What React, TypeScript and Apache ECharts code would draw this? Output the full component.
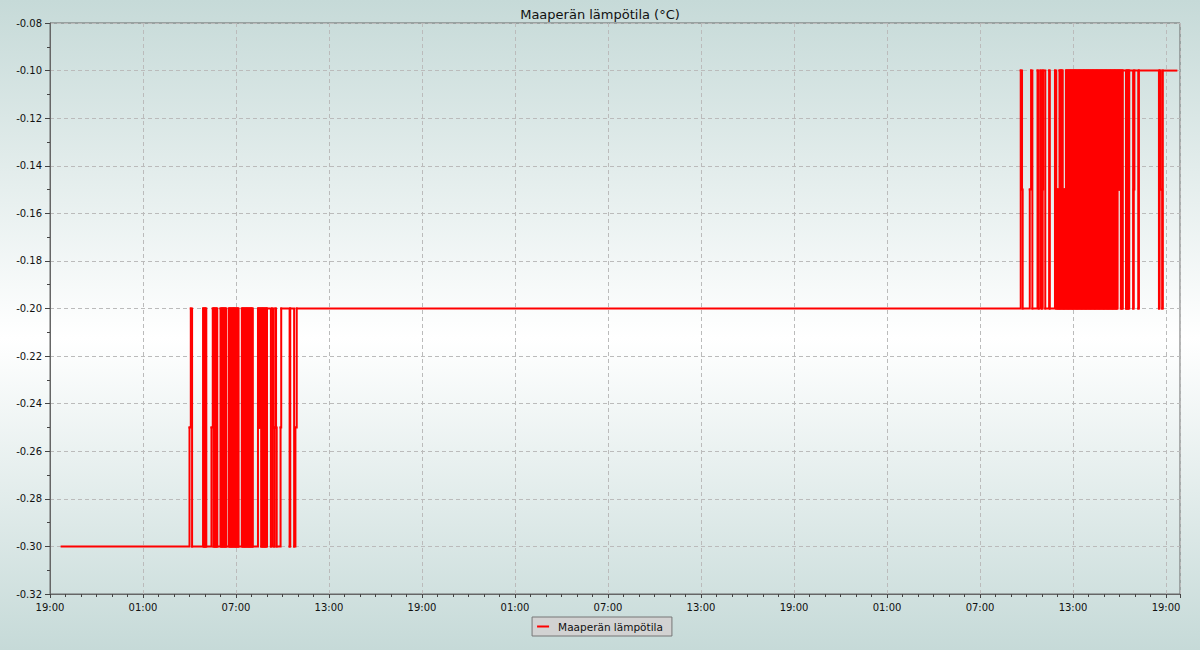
import React, { useEffect, useRef } from "react";
import * as echarts from "echarts";

const TITLE = "Maaperän lämpötila (°C)";
const SERIES_NAME = "Maaperän lämpötila";

// x axis: hours after the first day's 19:00; tick labels every 6 h
const AXIS_ORIGIN_CLOCK = 19;
const X_MAX_HOURS = 72.9;
const xTickHours = [0, 6, 12, 18, 24, 30, 36, 42, 48, 54, 60, 66, 72];

// y axis
const Y_MIN = -0.32;
const Y_MAX = -0.08;
const Y_STEP = 0.02;

// temperature levels (°C) that appear in the sample code strings
const levelCodes: Record<string, number> = {
  a: -0.3,
  b: -0.25,
  c: -0.2,
  d: -0.15,
  e: -0.1,
};

const SAMPLE_MINUTES = 2.5;

// first reading ("day hh:mm"), held until the first burst
const firstReadingTime = "0 19:45";
const firstReadingValue = -0.3;

// morning burst on day 1, one code per 2.5-minute sample
const burst1Start = "1 03:45";
const burst1Codes = [
  "aaaaaa", "bb", "cc", "aaaaaaaaaaaaaaaaa", "cacaca", "aaaaaaa", "bb",
  "cacacac", "aaaaa", "cacacacaca", "aaa", "cacacacacacacaca", "aaaa",
  "cacacacacacacacaca", "aaaaaaa", "cbcbc", "acacacacac", "ccccc", "aa", "cc",
  "babcb", "aaaaaa", "bc", "cccccccccccc", "a", "cccccc", "aa", "bb", "c",
];

// burst on day 3, one code per 2.5-minute sample
const burst2Start = "3 09:00";
const burst2Codes = [
  "ccccccccccccccc", "eedc", "cccccccccc", "ddee", "cccccccc", "ee", "ccc",
  "eecdeee", "cccccc", "e", "cccccccc", "ee", "cdcdc", "ececec", "dcdc",
  "ecececececececececececececececececececec", "ecececececececececececececececececececec",
  "e", "dedecece", "eeee", "cecece", "eeeee", "cde", "eeeee", "ce",
  "eeeeeeeeeeeeeeeeeeeeeeeeeeeeee", "ceeddce", "eeeeeeeeeeeeeeeeeeeee",
];

function toHours(t: string): number {
  const [day, clock] = t.split(" ");
  const [hh, mm] = clock.split(":").map(Number);
  return Number(day) * 24 + hh + mm / 60 - AXIS_ORIGIN_CLOCK;
}

function burstPoints(start: string, codes: string[]): [number, number][] {
  const t0 = toHours(start);
  const chars = codes.join("").split("");
  return chars.map((ch, i) => [t0 + (i * SAMPLE_MINUTES) / 60, levelCodes[ch]]);
}

const readings: [number, number][] = [
  [toHours(firstReadingTime), firstReadingValue],
  ...burstPoints(burst1Start, burst1Codes),
  ...burstPoints(burst2Start, burst2Codes),
];

// keep only the readings where the value changes (plus the last one)
const changes: [number, number][] = readings.filter(
  (p, i) => i === 0 || i === readings.length - 1 || p[1] !== readings[i - 1][1]
);

// each value is held until the next change: [t, value, tNext, valueNext]
const stepData: number[][] = changes
  .slice(0, -1)
  .map((p, i) => [p[0], p[1], changes[i + 1][0], changes[i + 1][1]]);

const FONT = "DejaVu Sans";
const LINE_COLOR = "#ff0000";

export default function App() {
  const ref = useRef<HTMLDivElement>(null);

  useEffect(() => {
    if (!ref.current) return;
    const chart = echarts.init(ref.current, undefined, { renderer: "svg" });
    chart.setOption({
      animation: false,
      backgroundColor: new echarts.graphic.LinearGradient(0, 0, 0, 1, [
        { offset: 0, color: "#c6dad8" },
        { offset: 0.52, color: "#ffffff" },
        { offset: 1, color: "#c6dad8" },
      ]),
      title: {
        text: TITLE,
        left: "center",
        top: 3,
        textStyle: { fontFamily: FONT, fontSize: 13, fontWeight: "normal", color: "#111" },
      },
      legend: {
        data: [{ name: SERIES_NAME, icon: "rect", itemStyle: { color: LINE_COLOR } }],
        left: "center",
        top: 617,
        backgroundColor: "#d2d2d2",
        borderColor: "#777",
        borderWidth: 1,
        borderRadius: 0,
        padding: [4, 9, 4, 5],
        itemWidth: 12,
        itemHeight: 2,
        textStyle: { fontFamily: FONT, fontSize: 10.5, color: "#111", padding: [0, 0, 0, 4] },
      },
      grid: {
        left: 50,
        right: 20,
        top: 23,
        bottom: 56,
        show: true,
        borderColor: "#666",
        borderWidth: 1,
        backgroundColor: "transparent",
      },
      xAxis: {
        type: "value",
        min: 0,
        max: X_MAX_HOURS,
        interval: 6,
        axisLine: { show: true, lineStyle: { color: "#666" } },
        axisTick: { show: true, inside: false, length: 4, lineStyle: { color: "#444" } },
        minorTick: { show: true, splitNumber: 6, length: 3, lineStyle: { color: "#444" } },
        splitLine: { show: true, lineStyle: { color: "#bbb", type: [4, 3] } },
        axisLabel: {
          margin: 8,
          fontFamily: FONT,
          fontSize: 10,
          color: "#111",
          showMaxLabel: false,
          formatter: (v: number) => {
            const r = Math.round(v);
            if (Math.abs(v - r) > 1e-6 || !xTickHours.includes(r)) return "";
            const h = (AXIS_ORIGIN_CLOCK + r) % 24;
            return String(h).padStart(2, "0") + ":00";
          },
        },
      },
      yAxis: {
        type: "value",
        min: Y_MIN,
        max: Y_MAX,
        interval: Y_STEP,
        axisLine: { show: true, lineStyle: { color: "#666" } },
        axisTick: { show: true, inside: false, length: 5, lineStyle: { color: "#444" } },
        minorTick: { show: true, splitNumber: 2, length: 3, lineStyle: { color: "#444" } },
        splitLine: { show: true, lineStyle: { color: "#bbb", type: [4, 3] } },
        axisLabel: {
          margin: 8,
          fontFamily: FONT,
          fontSize: 10,
          color: "#111",
          formatter: (v: number) => v.toFixed(2),
        },
      },
      series: [
        {
          name: SERIES_NAME,
          type: "custom",
          data: stepData,
          encode: { x: [0, 2], y: [1, 3] },
          itemStyle: { color: LINE_COLOR },
          renderItem: (params: any, api: any) => {
            const p0 = api.coord([api.value(0), api.value(1)]);
            const p1 = api.coord([api.value(2), api.value(1)]);
            const p2 = api.coord([api.value(2), api.value(3)]);
            return {
              type: "polyline",
              silent: true,
              shape: { points: [p0, p1, p2] },
              style: {
                stroke: LINE_COLOR,
                fill: null,
                lineWidth: 2,
                lineCap: "square",
                lineJoin: "miter",
              },
            };
          },
        },
      ],
    });
    return () => chart.dispose();
  }, []);

  return (
    <div
      ref={ref}
      style={{ position: "fixed", left: 0, top: 0, width: 1200, height: 650 }}
    />
  );
}
